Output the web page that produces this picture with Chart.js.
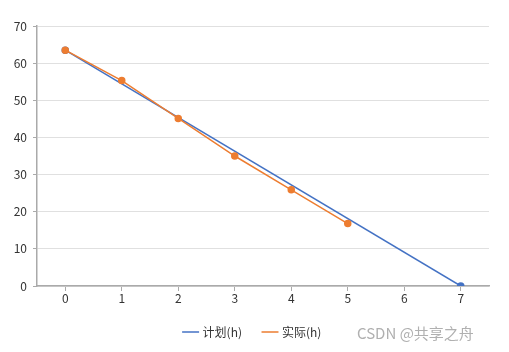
<!DOCTYPE html>
<html>
<head>
<meta charset="utf-8">
<script src="https://cdn.jsdelivr.net/npm/chart.js@4/dist/chart.umd.min.js"></script>
<style>
  html, body { margin: 0; padding: 0; background: #fff; }
  #wrap { position: relative; width: 509px; height: 352px; }
  #mark {
    position: absolute; left: 357px; top: 322px;
    font: 15px "Noto Sans CJK SC", sans-serif; color: #b0b0b0;
  }
</style>
</head>
<body>
<div id="wrap">
  <canvas id="chart" width="509" height="352"></canvas>
  <div id="mark">CSDN @共享之舟</div>
</div>
<script>
// ===== Data =====
const days = ["0", "1", "2", "3", "4", "5", "6", "7"];
const planHours = [63.5, null, null, null, null, null, null, 0];
const actualHours = [63.5, 55.3, 45.1, 35, 25.9, 16.8];
const yTicks = [0, 10, 20, 30, 40, 50, 60, 70];

const fontFamily = '"Microsoft YaHei", "Noto Sans CJK SC", sans-serif';
Chart.defaults.font.family = fontFamily;
Chart.defaults.font.size = 12;
Chart.defaults.color = "#333";

// nudge the legend a bit left of the plot-area centre
const legendShift = {
  id: "legendShift",
  afterLayout(chart) {
    chart.legend.left -= 10;
    chart.legend.right -= 10;
  }
};

const ctx = document.getElementById("chart").getContext("2d");
new Chart(ctx, {
  type: "line",
  data: {
    labels: days,
    datasets: [
      {
        label: "计划(h)", data: planHours, spanGaps: true, order: 2,
        borderColor: "#4472C4", backgroundColor: "#4472C4",
        borderWidth: 1.5, pointRadius: 3, pointHoverRadius: 3, tension: 0
      },
      {
        label: "实际(h)", data: actualHours, order: 1,
        borderColor: "#ED7D31", backgroundColor: "#ED7D31",
        borderWidth: 1.5, pointRadius: 3, pointHoverRadius: 3, tension: 0
      }
    ]
  },
  options: {
    responsive: false,
    animation: false,
    layout: { padding: { left: 0, right: 20, top: 26, bottom: 4 } },
    scales: {
      x: {
        type: "category",
        offset: true,
        grid: { display: true, drawOnChartArea: false, offset: false, tickLength: 5, color: "#aaa" },
        border: { color: "#aaa", width: 1.5 },
        ticks: { padding: 0, color: "#333" },
        afterFit: s => { s.height = 18; }
      },
      y: {
        min: 0, max: 70,
        afterBuildTicks: s => { s.ticks = yTicks.map(v => ({ value: v })); },
        grid: { color: "#e0e0e0", tickLength: 4, tickColor: "#aaa" },
        border: { color: "#aaa", width: 1.5 },
        ticks: { padding: 6, color: "#333" },
        afterFit: s => { s.width = 37; }
      }
    },
    plugins: {
      tooltip: { enabled: false },
      legend: {
        position: "bottom",
        fullSize: false,
        labels: {
          usePointStyle: true, pointStyle: "line", boxWidth: 14,
          padding: 22, color: "#333", font: { size: 12 },
          sort: (a, b) => a.datasetIndex - b.datasetIndex
        }
      }
    }
  },
  plugins: [legendShift]
});
</script>
</body>
</html>
